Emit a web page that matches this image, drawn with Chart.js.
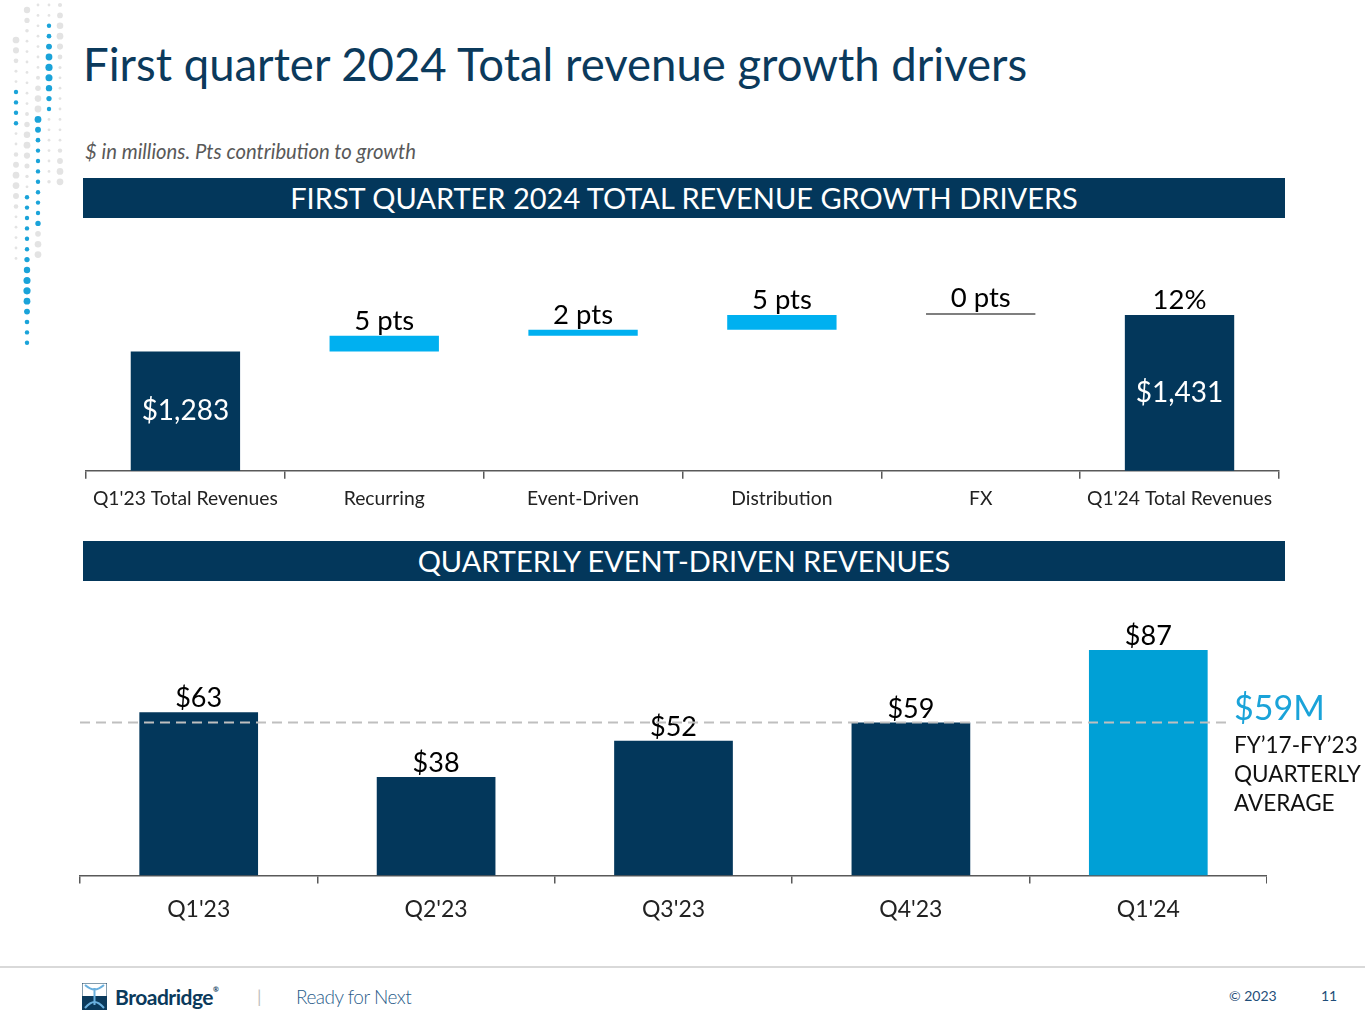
<!DOCTYPE html>
<html>
<head>
<meta charset="utf-8">
<script src="https://cdn.jsdelivr.net/npm/chart.js@4.4.1/dist/chart.umd.min.js"></script>
<style>
  body { margin: 0; background: #fff; }
  .slide { position: relative; width: 1365px; height: 1024px; overflow: hidden; font-family: Lato, "Open Sans", sans-serif; }
  .abs { position: absolute; white-space: nowrap; line-height: 1; }
  .title { left: 83px; top: 41px; font-size: 45.5px; color: #0b3a5c; }
  .subtitle { left: 85px; top: 141px; font-size: 20.3px; font-style: italic; color: #595959; }
  .band { position: absolute; left: 83px; width: 1202px; height: 40px; background: #03375b; color: #fff;
          font-size: 29px; line-height: 40px; text-align: center; }
  .avg-value { left: 1234px; top: 690px; font-size: 34px; color: #1aa3d9; }
  .avg-note { left: 1234px; top: 730px; font-size: 22.5px; line-height: 29px; color: #111; }
  .footer-line { position: absolute; left: 0; top: 966px; width: 1365px; height: 2px; background: #d9d9d9; }
  canvas { position: absolute; }
</style>
</head>
<body>
<div class="slide">
  <canvas id="dots" width="70" height="350" style="left:0;top:0"></canvas>

  <div class="abs title">First quarter 2024 Total revenue growth drivers</div>
  <div class="abs subtitle">$ in millions. Pts contribution to growth</div>

  <div class="band" style="top:178px">FIRST QUARTER 2024 TOTAL REVENUE GROWTH DRIVERS</div>
  <canvas id="driversChart" width="1200" height="278" style="left:80px;top:240px"></canvas>

  <div class="band" style="top:541px">QUARTERLY EVENT-DRIVEN REVENUES</div>
  <canvas id="eventChart" width="1193" height="335" style="left:74px;top:600px"></canvas>

  <div class="abs avg-value">$59M</div>
  <div class="abs avg-note">FY’17-FY’23<br>QUARTERLY<br>AVERAGE</div>

  <div class="footer-line"></div>
  <svg class="abs" style="left:82px;top:983px" width="25" height="27" viewBox="0 0 25 27">
    <rect x="0" y="0" width="25" height="27" fill="#fff" stroke="#0b3a5c" stroke-width="1"/>
    <rect x="0" y="13" width="25" height="14" fill="#0b3a5c"/>
    <path d="M3 2 C10 8, 15 8, 22 2 M3 25 C10 17, 15 17, 22 25 M12.5 5 L12.5 22" stroke="#6ab0de" stroke-width="2" fill="none"/>
  </svg>
  <div class="abs" style="left:115px;top:986px;font-size:21px;font-weight:700;color:#0b3a5c;letter-spacing:-0.5px">Broadridge<span style="font-size:7px;vertical-align:top">®</span></div>
  <div class="abs" style="left:257px;top:987px;font-size:18px;color:#bfbfbf">|</div>
  <div class="abs" style="left:296px;top:987px;font-size:19px;font-weight:300;color:#2a5d8a;letter-spacing:-0.5px">Ready for Next</div>
  <div class="abs" style="left:1229px;top:989px;font-size:14px;color:#1f4e79">© 2023</div>
  <div class="abs" style="left:1321px;top:989px;font-size:14px;color:#1f4e79">11</div>
</div>

<script>
// ---- data ----
const driverLabels = ["Q1'23 Total Revenues", "Recurring", "Event-Driven", "Distribution", "FX", "Q1'24 Total Revenues"];
const startRevenue = 1283;
const endRevenue = 1431;
const driverAmounts = [64, 24, 60, 0];        // $M
const driverPts = [5, 2, 5, 0];
const totalGrowthPct = 12;

const quarterLabels = ["Q1'23", "Q2'23", "Q3'23", "Q4'23", "Q1'24"];
const eventRevenues = [63, 38, 52, 59, 87];
const eventAverage = 59;

const navy = '#03375b';
const lightBlue = '#00b0f0';
const brightBlue = '#00a0d6';
const fontFamily = 'Lato, "Open Sans", sans-serif';

// ---- waterfall ranges ----
const waterfall = [startRevenue];
let running = startRevenue;
driverAmounts.forEach(a => {
  waterfall.push([running, running + a]);
  running += a;
});
waterfall.push(endRevenue);

const money = v => '$' + v.toLocaleString('en-US');
const topLabels = ['', ...driverPts.map(p => p + ' pts'), totalGrowthPct + '%'];
const innerLabels = [money(startRevenue), '', '', '', '', money(endRevenue)];
const driverColors = [navy, lightBlue, lightBlue, lightBlue, '#7f7f7f', navy];

const barLabels = {
  id: 'barLabels',
  afterDatasetsDraw(chart, args, opts) {
    const ctx = chart.ctx;
    const area = chart.chartArea;
    const meta = chart.getDatasetMeta(0);
    ctx.save();
    ctx.textAlign = 'center';
    meta.data.forEach((bar, i) => {
      // bars whose base sits below the axis minimum are clipped to the chart area
      const top = Math.max(Math.min(bar.y, bar.base), area.top);
      const bottom = Math.min(Math.max(bar.y, bar.base), area.bottom);
      if (opts.top[i]) {
        ctx.font = opts.topFont;
        ctx.fillStyle = '#000';
        ctx.textBaseline = 'alphabetic';
        ctx.fillText(opts.top[i], bar.x, top - opts.gap);
      }
      if (opts.inner && opts.inner[i]) {
        ctx.font = opts.innerFont;
        ctx.fillStyle = '#fff';
        ctx.textBaseline = 'middle';
        ctx.fillText(opts.inner[i], bar.x, (top + bottom) / 2);
      }
    });
    ctx.restore();
  }
};

const avgLine = {
  id: 'avgLine',
  afterDatasetsDraw(chart, args, opts) {
    const { ctx, chartArea } = chart;
    const y = chart.scales.y.getPixelForValue(opts.value);
    ctx.save();
    ctx.strokeStyle = '#bfbfbf';
    ctx.lineWidth = 2;
    ctx.setLineDash([10, 6]);
    ctx.beginPath();
    ctx.moveTo(chartArea.left, y);
    ctx.lineTo(chartArea.right - 37, y);
    ctx.stroke();
    ctx.restore();
  }
};

function xAxis(fontSize, padding) {
  return {
    grid: { drawOnChartArea: false, drawTicks: true, tickLength: 8, tickColor: '#595959', lineWidth: 1.5 },
    border: { display: true, color: '#595959', width: 1.5 },
    ticks: { color: '#222', font: { family: fontFamily, size: fontSize }, padding: padding, maxRotation: 0 }
  };
}

new Chart(document.getElementById('driversChart'), {
  type: 'bar',
  data: {
    labels: driverLabels,
    datasets: [{
      data: waterfall,
      backgroundColor: driverColors,
      barPercentage: 0.55,
      categoryPercentage: 1,
      minBarLength: 2
    }]
  },
  options: {
    responsive: false,
    animation: false,
    layout: { padding: { left: 6, right: 0, top: 0, bottom: 0 } },
    plugins: {
      legend: { display: false },
      tooltip: { enabled: false },
      barLabels: {
        top: topLabels, inner: innerLabels, gap: 6,
        topFont: '27.5px ' + fontFamily, innerFont: '28px ' + fontFamily
      }
    },
    scales: {
      x: xAxis(19.3, 8),
      y: { display: false, min: 800, max: 1735 }
    }
  },
  plugins: [barLabels]
});

new Chart(document.getElementById('eventChart'), {
  type: 'bar',
  data: {
    labels: quarterLabels,
    datasets: [{
      data: eventRevenues,
      backgroundColor: eventRevenues.map((v, i) => i === eventRevenues.length - 1 ? brightBlue : navy),
      barPercentage: 0.5,
      categoryPercentage: 1
    }]
  },
  options: {
    responsive: false,
    animation: false,
    layout: { padding: { left: 6, right: 0, top: 0, bottom: 0 } },
    plugins: {
      legend: { display: false },
      tooltip: { enabled: false },
      avgLine: { value: eventAverage },
      barLabels: {
        top: eventRevenues.map(v => '$' + v), gap: 5,
        topFont: '27px ' + fontFamily
      }
    },
    scales: {
      x: xAxis(23, 12),
      y: { display: false, min: 0, max: 106.3 }
    }
  },
  plugins: [barLabels, avgLine]
});

// ---- decorative dot column, top-left of the slide ----
(function () {
  const c = document.getElementById('dots').getContext('2d');
  const cols = [
    { x: 16, from: 40, to: 260, blue: [86, 132] },
    { x: 27, from: 10, to: 345, blue: [190, 345] },
    { x: 38, from: 5, to: 265, blue: [118, 230] },
    { x: 49, from: 5, to: 185, blue: [25, 112] },
    { x: 60, from: 5, to: 185, blue: null }
  ];
  cols.forEach((col, ci) => {
    for (let y = col.from; y <= col.to; y += 10.4) {
      const isBlue = col.blue && y >= col.blue[0] && y <= col.blue[1];
      const phase = Math.sin((y + ci * 37) / 23);
      const r = isBlue ? 2.2 + 1.4 * Math.max(0, phase) : 1.4 + 2 * Math.max(0, phase);
      c.fillStyle = isBlue ? '#1aa3d9' : '#e3e3e3';
      c.beginPath();
      c.arc(col.x, y, r, 0, Math.PI * 2);
      c.fill();
    }
  });
})();
</script>
</body>
</html>
